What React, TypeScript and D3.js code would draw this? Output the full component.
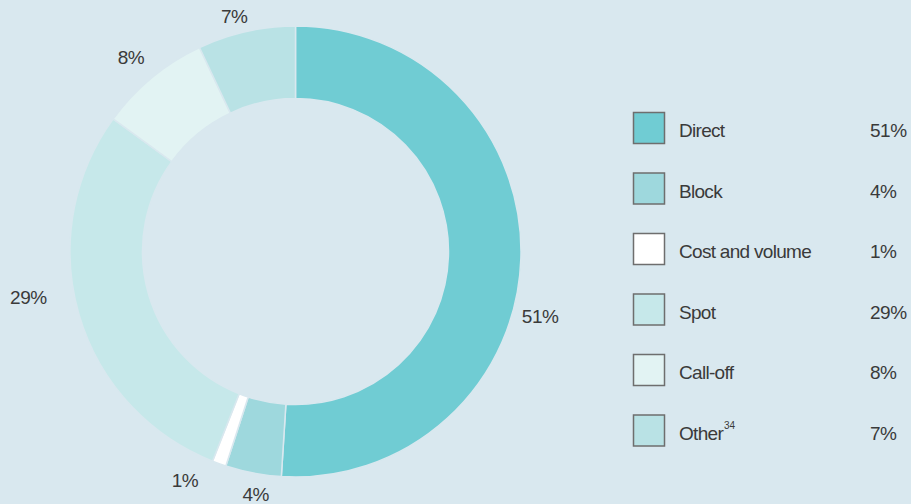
import { useEffect, useRef } from 'react';
import * as d3 from 'd3';

// ---- data ----
const categories = ['Direct', 'Block', 'Cost and volume', 'Spot', 'Call-off', 'Other'];
const shares = [51, 4, 1, 29, 8, 7];
const valueLabels = ['51%', '4%', '1%', '29%', '8%', '7%'];
const footnotes = ['', '', '', '', '', '34'];

// ---- style ----
const colors = ['#70ccd3', '#9ed8dd', '#ffffff', '#c6e8ea', '#e2f3f3', '#b9e2e5'];
const bg = '#d9e8ef';
const textColor = '#3a3a3a';
const font = '"Liberation Sans", Arial, sans-serif';

// label placement: angle nudge (deg) and radius for each slice label
const labelNudge = [13, -1.5, 6, 6.5, -0.6, -2];
const labelRadius = [253, 246, 254, 271, 255, 243];

const App = () => {
    const svgRef = useRef<SVGSVGElement>(null);

    useEffect(() => {
        const width = 911;
        const height = 504;
        const cx = 295.5;
        const cy = 251.5;
        const outerR = 225.5;
        const innerR = 153;

        const svg = d3.select(svgRef.current);
        svg.selectAll('*').remove();

        svg.append('rect')
            .attr('width', width)
            .attr('height', height)
            .attr('fill', bg);

        const pie = d3.pie<number>().sort(null).value(d => d);
        const arcs = pie(shares);
        const arc = d3.arc<d3.PieArcDatum<number>>()
            .innerRadius(innerR)
            .outerRadius(outerR);

        const g = svg.append('g').attr('transform', `translate(${cx},${cy})`);

        g.selectAll('path')
            .data(arcs)
            .enter()
            .append('path')
            .attr('d', arc)
            .attr('fill', (_, i) => colors[i])
            .attr('stroke', bg)
            .attr('stroke-width', 1.5);

        // slice labels
        const labelPos = (d: d3.PieArcDatum<number>, i: number) => {
            const a = (d.startAngle + d.endAngle) / 2 + (labelNudge[i] * Math.PI) / 180;
            return [labelRadius[i] * Math.sin(a), -labelRadius[i] * Math.cos(a)];
        };

        g.selectAll('text.lbl')
            .data(arcs)
            .enter()
            .append('text')
            .attr('class', 'lbl')
            .attr('x', (d, i) => labelPos(d, i)[0])
            .attr('y', (d, i) => labelPos(d, i)[1])
            .attr('dy', '0.36em')
            .attr('text-anchor', 'middle')
            .attr('font-family', font)
            .attr('font-size', 19)
            .attr('letter-spacing', -0.5)
            .attr('fill', textColor)
            .text((_, i) => valueLabels[i]);

        // legend
        const rowY = d3.scaleBand<number>()
            .domain(d3.range(categories.length))
            .range([112, 475])
            .paddingInner(0);

        const legend = svg.append('g');
        const rows = legend.selectAll('g')
            .data(categories)
            .enter()
            .append('g')
            .attr('transform', (_, i) => `translate(0,${rowY(i)})`);

        rows.append('rect')
            .attr('x', 633.5)
            .attr('y', 0.5)
            .attr('width', 31)
            .attr('height', 31)
            .attr('fill', (_, i) => colors[i])
            .attr('stroke', '#6e6e6e')
            .attr('stroke-width', 1.5);

        const label = rows.append('text')
            .attr('x', 679)
            .attr('y', 25)
            .attr('font-family', font)
            .attr('font-size', 19)
            .attr('letter-spacing', -0.7)
            .attr('fill', textColor);
        label.append('tspan').text(d => d);
        label.append('tspan')
            .attr('font-size', 10)
            .attr('dy', -11)
            .attr('dx', 1)
            .attr('letter-spacing', 0)
            .text((_, i) => footnotes[i]);

        rows.append('text')
            .attr('x', 870)
            .attr('y', 25)
            .attr('font-family', font)
            .attr('font-size', 19)
            .attr('letter-spacing', -0.5)
            .attr('fill', textColor)
            .text((_, i) => valueLabels[i]);
    }, []);

    return (
        <svg
            ref={svgRef}
            width={911}
            height={504}
            style={{ position: 'absolute', left: 0, top: 0, display: 'block' }}
        />
    );
};

export default App;
